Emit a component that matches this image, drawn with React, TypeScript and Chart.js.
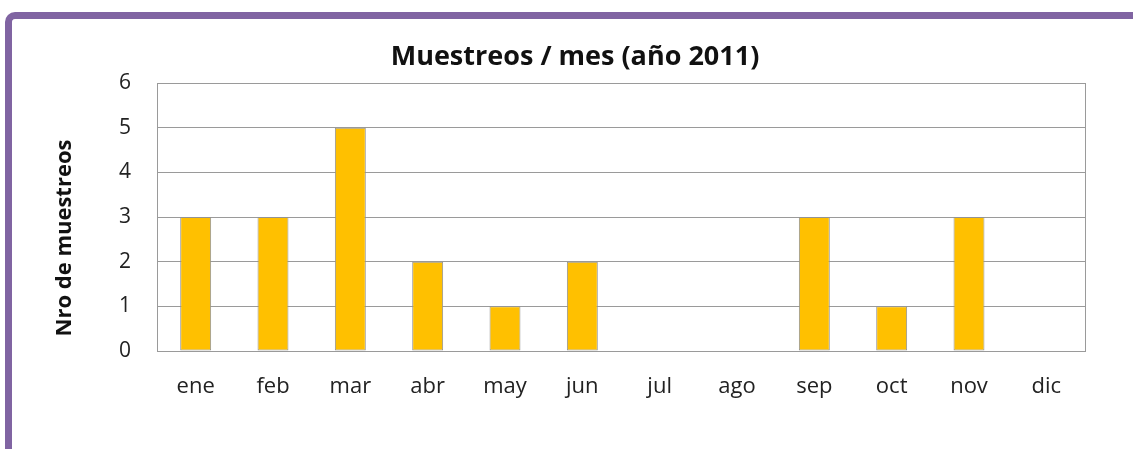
import React, { useEffect, useRef } from "react";
import { Chart, registerables } from "chart.js";

Chart.register(...registerables);

const months = ["ene", "feb", "mar", "abr", "may", "jun", "jul", "ago", "sep", "oct", "nov", "dic"];
const samples = [3, 3, 5, 2, 1, 2, 0, 0, 3, 1, 3, 0];
const chartTitle = "Muestreos / mes (año 2011)";
const yTitle = "Nro de muestreos";

const FONT = "'Open Sans', 'Noto Sans', sans-serif";
const GRID = "#9a9a9a";

const framePlugin = {
  id: "framePlugin",
  beforeDatasetsDraw(chart: any) {
    const { ctx, chartArea } = chart;
    ctx.save();
    ctx.strokeStyle = GRID;
    ctx.lineWidth = 1;
    ctx.strokeRect(
      Math.round(chartArea.left) + 0.5,
      Math.round(chartArea.top) + 0.5,
      Math.round(chartArea.right - chartArea.left),
      Math.round(chartArea.bottom - chartArea.top)
    );
    ctx.restore();
  },
  afterDraw(chart: any) {
    const { ctx, chartArea } = chart;
    ctx.save();
    ctx.translate(chartArea.left - 92, (chartArea.top + chartArea.bottom) / 2 + 21);
    ctx.rotate(-Math.PI / 2);
    ctx.font = `bold 22px ${FONT}`;
    ctx.fillStyle = "#111";
    ctx.textAlign = "center";
    ctx.textBaseline = "middle";
    ctx.fillText(yTitle, 0, 0);
    ctx.restore();
  },
};

export default function App() {
  const ref = useRef<HTMLCanvasElement | null>(null);

  useEffect(() => {
    if (!ref.current) return;
    const chart = new Chart(ref.current, {
      type: "bar",
      data: {
        labels: months,
        datasets: [
          {
            data: samples,
            backgroundColor: "#FFC000",
            borderColor: "#939393",
            borderWidth: 1,
            borderSkipped: false,
            barPercentage: 0.4,
            categoryPercentage: 1,
          },
        ],
      },
      options: {
        animation: false,
        responsive: false,
        maintainAspectRatio: false,
        layout: { padding: { left: 5, top: 10, right: 0, bottom: 0 } },
        plugins: {
          legend: { display: false },
          tooltip: { enabled: false },
          title: {
            display: true,
            text: chartTitle,
            color: "#111",
            font: { family: FONT, size: 27, weight: "bold", lineHeight: 1.2 },
            padding: { top: 11.8, bottom: 9.8 },
          },
        },
        scales: {
          x: {
            grid: { display: false, drawTicks: false },
            border: { display: false },
            ticks: {
              color: "#222",
              font: { family: FONT, size: 22 },
              padding: 23,
              maxRotation: 0,
            },
            afterFit(scale: any) {
              scale.height = 98;
            },
          },
          y: {
            min: 0,
            max: 6,
            grid: { color: GRID, drawTicks: false },
            border: { display: false },
            ticks: {
              stepSize: 1,
              color: "#222",
              font: { family: FONT, size: 21 },
              padding: 26,
            },
            afterFit(scale: any) {
              scale.width = 140;
            },
          },
          yRight: {
            position: "right",
            display: true,
            grid: { display: false, drawTicks: false },
            border: { display: false },
            ticks: { display: false },
            afterFit(scale: any) {
              scale.width = 48;
            },
          },
        },
      },
      plugins: [framePlugin],
    });
    return () => chart.destroy();
  }, []);

  return (
    <div
      style={{
        position: "fixed",
        left: 0,
        top: 0,
        width: 1133,
        height: 449,
        background: "#fff",
        overflow: "hidden",
      }}
    >
      <div
        style={{
          position: "absolute",
          left: 5,
          top: 12,
          width: 1160,
          height: 470,
          boxSizing: "border-box",
          borderTop: "7px solid #8064A2",
          borderLeft: "7px solid #8064A2",
          borderTopLeftRadius: 10,
        }}
      />
      <canvas
        ref={ref}
        width={1121}
        height={430}
        style={{ position: "absolute", left: 12, top: 19, width: 1121, height: 430 }}
      />
    </div>
  );
}
